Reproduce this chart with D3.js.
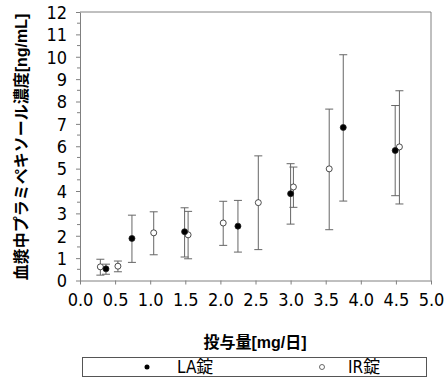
<!DOCTYPE html>
<html>
<head>
<meta charset="utf-8">
<script src="https://cdn.jsdelivr.net/npm/d3@7"></script>
<style>
  body { margin: 0; background: #fff; }
  text { font-family: "Liberation Sans", "Noto Sans CJK JP", sans-serif; }
  .narrow { font-family: "Liberation Sans Narrow", "DejaVu Sans Condensed", "Noto Sans CJK JP", sans-serif; }
</style>
</head>
<body>
<svg id="chart" width="447" height="383"></svg>
<script>
// LA tablets: dose, mean, lower, upper
const laDose  = [0.37, 0.74, 1.49, 2.25, 3.00, 3.75, 4.49];
const laMean  = [0.52, 1.88, 2.18, 2.43, 3.88, 6.84, 5.81];
const laLow   = [0.28, 0.81, 1.05, 1.27, 2.52, 3.55, 3.79];
const laHigh  = [0.73, 2.92, 3.25, 3.58, 5.22, 10.09, 7.82];

// IR tablets
const irDose  = [0.29, 0.54, 1.05, 1.54, 2.04, 2.54, 3.04, 3.55, 4.55];
const irMean  = [0.61, 0.64, 2.13, 2.04, 2.57, 3.48, 4.18, 4.99, 5.97];
const irLow   = [0.24, 0.39, 1.15, 0.97, 1.57, 1.38, 3.27, 2.27, 3.42];
const irHigh  = [0.95, 0.87, 3.07, 3.09, 3.54, 5.57, 5.07, 7.66, 8.48];

const xTicks = [0, 0.5, 1, 1.5, 2, 2.5, 3, 3.5, 4, 4.5, 5];
const yTicks = d3.range(0, 13);

const svg = d3.select("#chart");
const plotL = 80, plotR = 431, plotT = 12, plotB = 280.5;

const x = d3.scaleLinear().domain([0, 5]).range([plotL, plotR]);
const y = d3.scaleLinear().domain([0, 12]).range([plotB, plotT]);

const axisColor = "#808080";

// frame (top and right)
svg.append("path")
    .attr("d", `M${plotL},${plotT}H${plotR}V${plotB}`)
    .attr("fill", "none")
    .attr("stroke", axisColor);

// minor y ticks
svg.append("g")
    .selectAll("line")
    .data(d3.range(0.5, 12, 1))
    .enter().append("line")
    .attr("x1", plotL - 3).attr("x2", plotL)
    .attr("y1", d => y(d)).attr("y2", d => y(d))
    .attr("stroke", axisColor);

// x axis
const xAxis = svg.append("g")
    .attr("transform", `translate(0,${plotB})`)
    .call(d3.axisBottom(x).tickValues(xTicks).tickFormat(d3.format(".1f")).tickSize(4).tickSizeOuter(0));
xAxis.select(".domain").attr("stroke", axisColor);
xAxis.selectAll(".tick line").attr("stroke", axisColor);
xAxis.selectAll(".tick text")
    .attr("class", "narrow")
    .attr("fill", "#000")
    .attr("font-size", 18)
    .attr("y", 25.5)
    .attr("dy", null);

// y axis
const yAxis = svg.append("g")
    .attr("transform", `translate(${plotL},0)`)
    .call(d3.axisLeft(y).tickValues(yTicks).tickSize(4).tickSizeOuter(0));
yAxis.select(".domain").attr("stroke", axisColor);
yAxis.selectAll(".tick line").attr("stroke", axisColor);
yAxis.selectAll(".tick text")
    .attr("class", "narrow")
    .attr("fill", "#000")
    .attr("font-size", 18)
    .attr("x", -13)
    .attr("dy", "0.35em");

// axis titles
svg.append("text")
    .attr("transform", `translate(27,147) rotate(-90)`)
    .attr("text-anchor", "middle")
    .attr("font-size", 16)
    .attr("font-weight", "bold")
    .text("血漿中プラミペキソール濃度[ng/mL]");

svg.append("text")
    .attr("x", 255)
    .attr("y", 348)
    .attr("text-anchor", "middle")
    .attr("font-size", 16)
    .attr("font-weight", "bold")
    .text("投与量[mg/日]");

// series drawing
function drawSeries(dose, mean, low, high, fill) {
    const g = svg.append("g");
    const idx = d3.range(dose.length);
    g.selectAll(".bar")
        .data(idx)
        .enter().append("path")
        .attr("fill", "none")
        .attr("stroke", "#666")
        .attr("d", i => {
            const cx = x(dose[i]), y1 = y(low[i]), y2 = y(high[i]);
            return `M${cx},${y1}V${y2}M${cx - 4},${y1}H${cx + 4}M${cx - 4},${y2}H${cx + 4}`;
        });
    g.selectAll("circle")
        .data(idx)
        .enter().append("circle")
        .attr("cx", i => x(dose[i]))
        .attr("cy", i => y(mean[i]))
        .attr("r", 3)
        .attr("fill", fill)
        .attr("stroke", "#222")
        .attr("stroke-width", 0.8);
}
drawSeries(irDose, irMean, irLow, irHigh, "#fff");
drawSeries(laDose, laMean, laLow, laHigh, "#000");

// legend
const legend = svg.append("g");
legend.append("rect")
    .attr("x", 82.5).attr("y", 357.5)
    .attr("width", 344).attr("height", 19)
    .attr("fill", "#fff")
    .attr("stroke", "#555");
legend.append("circle")
    .attr("cx", 147).attr("cy", 367).attr("r", 2.5)
    .attr("fill", "#000");
legend.append("text")
    .attr("class", "narrow")
    .attr("x", 177).attr("y", 373)
    .attr("font-size", 17)
    .text("LA錠");
legend.append("circle")
    .attr("cx", 322).attr("cy", 367).attr("r", 2.5)
    .attr("fill", "#fff").attr("stroke", "#444").attr("stroke-width", 0.8);
legend.append("text")
    .attr("class", "narrow")
    .attr("x", 348).attr("y", 373)
    .attr("font-size", 17)
    .text("IR錠");
</script>
</body>
</html>
